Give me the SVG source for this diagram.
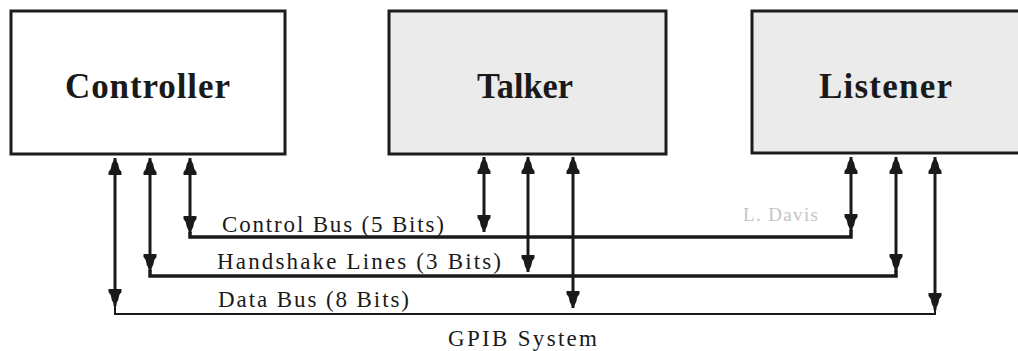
<svg xmlns="http://www.w3.org/2000/svg" width="1018" height="351" viewBox="0 0 1018 351">
  <style>
    .box { stroke: #1c1c1c; stroke-width: 3; }
    .white { fill: #ffffff; }
    .gray { fill: #ebebeb; }
    .title { font-family: "Liberation Serif", "Times New Roman", serif; font-weight: bold; font-size: 35px; fill: #1a1a1a; }
    .label { font-family: "Liberation Serif", "Times New Roman", serif; font-size: 23px; fill: #1a1a1a; }
    .bus { fill: none; stroke: #1a1a1a; stroke-linejoin: miter; }
    .arr { stroke: #1a1a1a; stroke-width: 3; marker-start: url(#head); marker-end: url(#head); }
  </style>
  <defs>
    <marker id="head" markerUnits="userSpaceOnUse" markerWidth="18" markerHeight="16" viewBox="0 -8 18 16" refX="17" refY="0" orient="auto-start-reverse">
      <path d="M17,0 L11,-3.2 L6,-4.3 L3,-6.5 L0,-6.5 L0,6.5 L3,6.5 L6,4.3 L11,3.2 Z" fill="#1a1a1a"/>
    </marker>
  </defs>
  <rect width="1018" height="351" fill="#ffffff"/>

  <g id="controller">
    <rect class="box white" x="11" y="11" width="274" height="143"/>
    <text class="title" x="65" y="98" textLength="165" lengthAdjust="spacing">Controller</text>
  </g>
  <g id="talker">
    <rect class="box gray" x="389" y="11" width="277" height="143"/>
    <text class="title" x="477" y="98" textLength="96" lengthAdjust="spacingAndGlyphs">Talker</text>
  </g>
  <g id="listener">
    <rect class="box gray" x="752" y="11" width="290" height="142"/>
    <text class="title" x="819" y="98" textLength="133" lengthAdjust="spacing">Listener</text>
  </g>

  <g id="connectors">
    <!-- Control bus -->
    <path class="bus" stroke-width="3.5" d="M190,232 V237 H851 V230"/>
    <line class="arr" x1="190" y1="158" x2="190" y2="233"/>
    <line class="arr" x1="484" y1="157" x2="484" y2="232"/>
    <line class="arr" x1="851" y1="157" x2="851" y2="231"/>
    <!-- Handshake lines -->
    <path class="bus" stroke-width="3.5" d="M150,270 V276 H896 V270"/>
    <line class="arr" x1="150" y1="158" x2="150" y2="271"/>
    <line class="arr" x1="528" y1="157" x2="528" y2="272" stroke-width="3.5"/>
    <line class="arr" x1="896" y1="157" x2="896" y2="271"/>
    <!-- Data bus -->
    <path class="bus" stroke-width="2" d="M115,305 V314 H935 V309"/>
    <line class="arr" x1="115" y1="158" x2="115" y2="306" stroke-width="3.5"/>
    <line class="arr" x1="573" y1="157" x2="573" y2="308" stroke-width="2.5"/>
    <line class="arr" x1="935" y1="157" x2="935" y2="310"/>
  </g>

  <g id="labels">
    <text class="label" x="222" y="232" textLength="222" lengthAdjust="spacing">Control Bus (5 Bits)</text>
    <text class="label" x="217" y="269" textLength="284" lengthAdjust="spacing">Handshake Lines (3 Bits)</text>
    <text class="label" x="218" y="307" textLength="191" lengthAdjust="spacing">Data Bus (8 Bits)</text>
    <text x="743" y="221" font-family="Liberation Serif, serif" font-size="19" fill="#c4c4c4" textLength="75" lengthAdjust="spacing">L. Davis</text>
    <text class="label" x="448" y="346" font-size="22" textLength="149" lengthAdjust="spacing">GPIB System</text>
  </g>
</svg>
